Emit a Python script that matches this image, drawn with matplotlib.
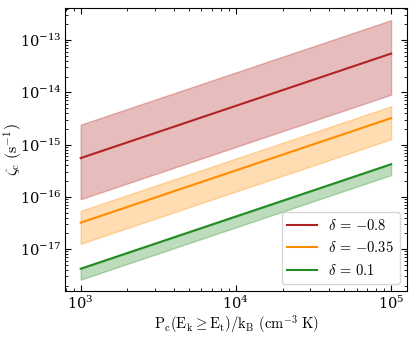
import matplotlib
matplotlib.use("Agg")
import matplotlib.pyplot as plt
import numpy as np

plt.rcParams['mathtext.fontset'] = 'cm'
plt.rcParams['font.family'] = ['DejaVu Serif']

pressure = [1e3, 1e5]
labels = [r'$\delta\,=\,{-0.8}$', r'$\delta\,=\,{-0.35}$', r'$\delta\,=\,0.1$']
colors = ['#b22222', '#ff8c00', '#228b22']
zeta_mid = [[5.5e-16, 5.5e-14], [3.2e-17, 3.2e-15], [4.2e-18, 4.2e-16]]
zeta_low = [[9.0e-17, 9.0e-15], [1.26e-17, 1.26e-15], [2.6e-18, 2.6e-16]]
zeta_high = [[2.4e-15, 2.4e-13], [5.4e-17, 5.4e-15], [4.2e-18, 4.2e-16]]

fig = plt.figure(figsize=(4.15, 3.39), dpi=100)
ax = fig.add_axes([0.157, 0.142, 0.824, 0.834])

for lab, c, m, lo, hi in zip(labels, colors, zeta_mid, zeta_low, zeta_high):
    ax.fill_between(pressure, lo, hi, color=c, alpha=0.3, lw=1)
    ax.plot(pressure, m, color=c, lw=1.5, label=lab)

ax.set_xscale('log')
ax.set_yscale('log')
ax.set_xlim(10**2.9, 10**5.103)
ax.set_ylim(10**-17.80, 10**-12.39)
ax.tick_params(which='both', direction='in', top=True, right=True, labelsize=10.5, pad=2.5)
ax.tick_params(which='major', length=4)
ax.tick_params(which='minor', length=2)
ax.set_xlabel(r'$\mathrm{P_c(E_k \geq E_t)/k_B\ (cm^{-3}\ K)}$', fontsize=10.5)
ax.set_ylabel(r'$\zeta_\mathrm{c}\ (\mathrm{s^{-1}})$', fontsize=11.5)
ax.xaxis.set_label_coords(0.5, -0.083)
ax.yaxis.set_label_coords(-0.12, 0.5)
ax.legend(loc='lower right', fontsize=10.5)
fig.savefig('out.png', dpi=100)
